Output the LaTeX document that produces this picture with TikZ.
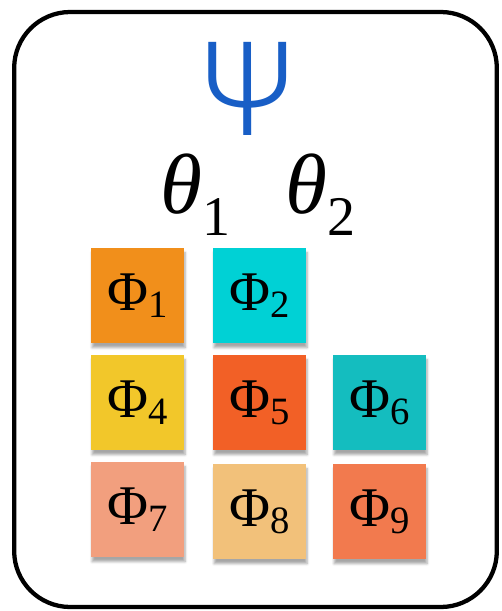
\documentclass[tikz,border=0pt]{standalone}
\usepackage{fontspec}
\setmainfont{Liberation Serif}
\newfontfamily\psifont{Fira Sans Light}
\usetikzlibrary{shadows.blur}
\definecolor{cA}{RGB}{241,143,27}
\definecolor{cB}{RGB}{0,209,213}
\definecolor{cD}{RGB}{242,199,42}
\definecolor{cE}{RGB}{242,96,38}
\definecolor{cF}{RGB}{20,189,191}
\definecolor{cG}{RGB}{242,159,126}
\definecolor{cH}{RGB}{242,193,122}
\definecolor{cI}{RGB}{242,122,78}
\definecolor{psiblue}{RGB}{24,94,198}
\newcommand\philbl[1]{\fontsize{42pt}{42pt}\selectfont Φ\raisebox{-0.13em}{\fontsize{29pt}{29pt}\selectfont #1}}
\newcommand\thetalbl[1]{\fontsize{64pt}{64pt}\selectfont\itshape θ\raisebox{-0.26em}{\upshape\fontsize{42pt}{42pt}\selectfont #1}}
\tikzset{
  sq/.style={minimum width=69.75pt, minimum height=71.25pt, inner sep=0pt, text=black,
    blur shadow={shadow xshift=0.8pt, shadow yshift=-3.5pt, shadow blur steps=6, shadow opacity=35}},
  frame/.style={draw=black, line width=3.2pt, rounded corners=42pt},
}
\begin{document}
\begin{tikzpicture}[x=0.75pt,y=-0.75pt]
\useasboundingbox (0,0) rectangle (501,611);
\node[frame, minimum width=362pt, minimum height=446.25pt] (box) at (255.5,309.5) {};
\node[text=psiblue, font=\psifont\fontsize{102pt}{102pt}\selectfont, inner sep=0pt, anchor=base] (psi) at (248,135) {\scalebox{0.97}[1]{Ψ}};
\node[inner sep=0pt, anchor=base west] (t1) at (160,213) {\thetalbl{1}};
\node[inner sep=0pt, anchor=base west] (t2) at (285,213) {\thetalbl{2}};
\node[sq, fill=cA] (p1) at (137.5,295.5) {\philbl{1}};
\node[sq, fill=cB] (p2) at (259.5,295.5) {\philbl{2}};
\node[sq, fill=cD] (p4) at (137.5,402.5) {\philbl{4}};
\node[sq, fill=cE] (p5) at (259.5,402.5) {\philbl{5}};
\node[sq, fill=cF] (p6) at (379.5,402.5) {\philbl{6}};
\node[sq, fill=cG] (p7) at (137.5,509.5) {\philbl{7}};
\node[sq, fill=cH] (p8) at (259.5,511.5) {\philbl{8}};
\node[sq, fill=cI] (p9) at (379.5,511.5) {\philbl{9}};
\end{tikzpicture}
\end{document}
